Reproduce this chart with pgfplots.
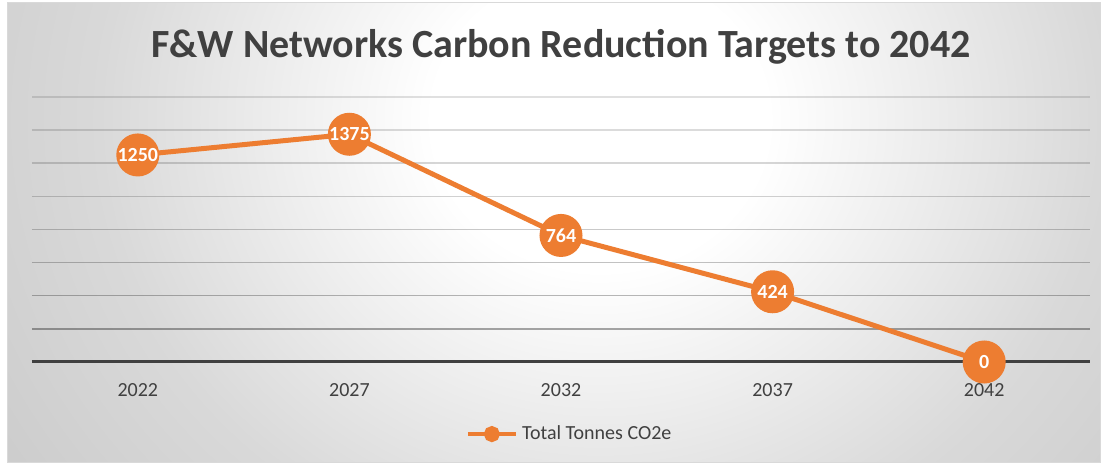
\documentclass[border=0pt]{standalone}
\usepackage{fontspec}
\setmainfont{Carlito}
\usepackage{pgfplots}
\pgfplotsset{compat=1.18}
\definecolor{orng}{HTML}{ED7D31}
\definecolor{txtgray}{HTML}{404040}
\definecolor{axgray}{HTML}{404040}
\definecolor{gA}{gray}{1.0}
\definecolor{gB}{gray}{0.85}
\definecolor{gC}{gray}{0.77}
\definecolor{gD}{gray}{0.745}
\definecolor{gE}{gray}{0.73}
\pgfdeclareradialshading{bgshade}{\pgfpoint{0bp}{0bp}}{color(0bp)=(gA); color(4bp)=(gA); color(12bp)=(gB); color(20bp)=(gC); color(28bp)=(gD); color(50bp)=(gE)}
\begin{document}
\begin{tikzpicture}[x=0.5pt,y=0.5pt]
\useasboundingbox (0,0) rectangle (1108,465);
\fill[white] (0,0) rectangle (1108,465);
\begin{scope}
\clip (7,2) rectangle (1100,462);
\shade[shading=bgshade] (-448,-595) rectangle (1648,1285);
\end{scope}
\draw[gray!30, line width=0.5pt] (7,2) rectangle (1100,462);
\node[font=\bfseries\fontsize{20}{24}\selectfont, text=txtgray, anchor=base] at (561,407) {F\&W Networks Carbon Reduction Targets to 2042};
\begin{axis}[
  at={(16pt,51.5pt)}, anchor=south west,
  scale only axis, width=529pt, height=132.5pt,
  xmin=-0.5, xmax=4.5, ymin=0, ymax=1600,
  clip=false,
  axis line style={draw=none},
  ytick=\empty,
  xtick={0,1,2,3,4},
  xticklabels={2022,2027,2032,2037,2042},
  major tick length=0pt,
  xticklabel style={font=\fontsize{10}{12}\selectfont, text=txtgray, yshift=-7pt},
  legend style={at={(0.509,-0.272)}, anchor=center, draw=none, fill=none,
    font=\fontsize{10}{12}\selectfont, text=txtgray, inner sep=0pt,
    /tikz/every even column/.append style={column sep=0pt}},
  legend image code/.code={\draw[orng, line width=2.2pt] (0pt,0pt) -- (24pt,0pt); \fill[orng] (12pt,0pt) circle (2.75pt);},
  /pgf/number format/1000 sep={},
  /pgf/number format/assume math mode=true,
]
\draw[color=black, opacity=0.12, line width=0.75pt] (axis cs:-0.5,1600) -- (axis cs:4.5,1600);
\draw[color=black, opacity=0.14, line width=0.75pt] (axis cs:-0.5,1400) -- (axis cs:4.5,1400);
\draw[color=black, opacity=0.16, line width=0.75pt] (axis cs:-0.5,1200) -- (axis cs:4.5,1200);
\draw[color=black, opacity=0.18, line width=0.75pt] (axis cs:-0.5,1000) -- (axis cs:4.5,1000);
\draw[color=black, opacity=0.21, line width=0.75pt] (axis cs:-0.5,800) -- (axis cs:4.5,800);
\draw[color=black, opacity=0.24, line width=0.75pt] (axis cs:-0.5,600) -- (axis cs:4.5,600);
\draw[color=black, opacity=0.28, line width=0.75pt] (axis cs:-0.5,400) -- (axis cs:4.5,400);
\draw[color=black, opacity=0.34, line width=0.75pt] (axis cs:-0.5,200) -- (axis cs:4.5,200);
\draw[color=axgray, line width=1.5pt] (axis cs:-0.5,0) -- (axis cs:4.5,0);
\addplot[color=orng, line width=2.5pt, mark=*, mark size=9.5pt,
  mark options={fill=orng, draw=none},
  nodes near coords, point meta=explicit,
  every node near coord/.append style={font=\bfseries\fontsize{10}{12}\selectfont, text=white, anchor=center}]
  coordinates {(0,1250)[1250] (1,1375)[1375] (2,764)[764] (3,424)[424] (4,0)[0]};
\addlegendentry{Total Tonnes CO2e}
\end{axis}
\end{tikzpicture}
\end{document}
